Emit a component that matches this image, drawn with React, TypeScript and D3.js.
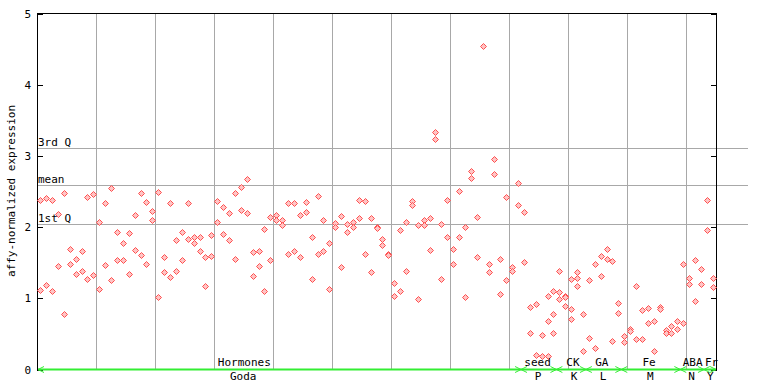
import React from 'react';
import * as d3 from 'd3';

const W = 768;
const H = 384;

// expression values per sample column (replicates)
const samples: number[][] = [
  [2.38, 1.12], [2.41, 1.19], [2.38, 1.10], [2.19, 1.45], [2.48, 0.78],
  [1.69, 1.49], [1.56, 1.35], [1.66, 1.38], [2.42, 1.27], [2.47, 1.33],
  [2.08, 1.13], [2.34, 1.47], [2.55, 1.26], [1.94, 1.54], [1.78, 1.54],
  [1.92, 1.35], [2.18, 1.68], [2.48, 1.61], [2.35, 1.48], [2.23, 2.10],
  [2.49, 1.02], [1.58, 1.37], [2.34, 1.30], [1.82, 1.38], [1.94, 1.54],
  [2.34, 1.83], [1.86, 1.78], [1.86, 1.66], [1.58, 1.17], [1.89, 1.59],
  [2.37, 2.07], [2.28, 1.90], [2.20, 1.82], [2.48, 1.55], [2.56, 2.24],
  [2.68, 2.20], [1.65, 1.31], [1.66, 1.45], [1.97, 1.10], [2.14, 1.54],
  [2.17, 2.10], [2.10, 2.03], [2.34, 1.62], [2.34, 1.66], [2.17, 1.58],
  [2.35, 2.21], [1.86, 1.27], [2.44, 1.62], [2.10, 1.66], [1.78, 1.13],
  [2.06, 2.00], [2.16, 1.44], [2.04, 1.94], [2.07, 2.00], [2.39, 2.13],
  [2.37, 1.62], [2.13, 1.37], [2.01, 1.99], [1.83, 1.75], [1.63, 1.61],
  [1.21, 1.04], [1.96, 1.10], [2.07, 1.38], [2.37, 2.31], [2.03, 0.99],
  [2.10, 2.03], [2.13, 1.68], [3.34, 3.24], [2.04, 1.27], [2.39, 1.86],
  [1.69, 1.49], [2.51, 1.87], [2.00, 1.02], [2.79, 2.70], [2.14, 1.58],
  [4.55], [1.48, 1.37], [2.96, 2.75], [1.55, 1.06], [2.42, 1.26],
  [1.44, 1.38], [2.63, 2.32], [2.21, 1.51], [0.88, 0.52], [0.92, 0.21],
  [0.48, 0.19], [1.04, 0.68, 0.19], [1.10, 0.78, 0.52], [1.38, 1.09, 0.99], [1.04, 1.02, 0.90],
  [1.27, 0.85, 0.71], [1.37, 1.28, 1.17], [0.78, 0.26], [1.26, 0.45], [1.49, 0.30],
  [1.59, 1.31], [1.69, 1.56], [1.52, 0.40], [0.93, 0.79], [0.47, 0.38],
  [0.57, 0.54], [1.18, 0.43], [0.83, 0.43], [0.86, 0.65], [0.68, 0.26],
  [0.88, 0.85], [0.55, 0.52], [0.61, 0.52], [0.68, 0.57], [1.48, 0.65],
  [1.28, 1.20], [1.54, 0.97], [1.42, 1.20], [2.39, 1.96], [1.28, 1.16],
];

const yTicks = [0, 1, 2, 3, 4, 5];
const refLabels = ['3rd Q', 'mean', '1st Q'];
const refValues = [3.11, 2.59, 2.046];

const groupNames = ['Hormones', 'seed', 'CK', 'GA', 'Fe', 'ABA', 'Fr'];
const sourceNames = ['Goda', 'P', 'K', 'L', 'M', 'N', 'Y'];
const groupStart = [0, 82, 88, 93, 99, 109, 113];
const groupEnd = [81, 87, 92, 98, 108, 112, 114];
const groupLabelAt = [34.6, 84.3, 90.3, 95.2, 103.2, 110.6, 113.8];
const sourceLabelAt = [34.4, 84.4, 90.5, 95.4, 103.4, 110.4, 113.6];

const FONT = "'DejaVu Sans Mono', monospace";

export default function App() {
  const left = 37, right = 716, top = 13, bottom = 369;
  const x = d3.scaleLinear().domain([-0.55, samples.length - 0.45]).range([left, right]);
  const y = d3.scaleLinear().domain([0, 5]).range([369.5, 14]);
  const gx = d3.scaleLinear().domain([0, 12]).range([left, 745]);
  const crisp = (v: number) => Math.round(v) + 0.5;

  const points: { cx: number; cy: number; key: string }[] = [];
  samples.forEach((vals, i) => {
    vals.forEach((v, j) => points.push({ cx: x(i), cy: y(v), key: `${i}-${j}` }));
  });

  const diamond = (cx: number, cy: number, r: number) =>
    `M${cx},${cy - r}L${cx + r},${cy}L${cx},${cy + r}L${cx - r},${cy}Z`;

  const green = '#33ee33';

  return (
    <svg width={W} height={H} style={{ position: 'absolute', left: 0, top: 0, background: '#fff' }}
      fontFamily={FONT}>
      <rect x={0} y={0} width={W} height={H} fill="#fff" />
      {/* vertical grid */}
      {d3.range(1, 12).map(k => (
        <line key={'vg' + k} x1={crisp(gx(k))} x2={crisp(gx(k))} y1={top} y2={bottom} stroke="#a8a8a8" strokeWidth={1} />
      ))}
      {/* reference lines */}
      {refValues.map((v, i) => (
        <g key={'ref' + i}>
          <line x1={left} x2={748} y1={crisp(y(v))} y2={crisp(y(v))} stroke="#a8a8a8" strokeWidth={1} />
          <text x={38} y={Math.round(y(v)) - 2} fontSize={11} fill="#000">{refLabels[i]}</text>
        </g>
      ))}
      {/* frame */}
      <line x1={left} x2={right + 1} y1={top + 0.5} y2={top + 0.5} stroke="#000" />
      <line x1={left + 0.5} x2={left + 0.5} y1={top} y2={bottom + 1} stroke="#000" />
      <line x1={right + 0.5} x2={right + 0.5} y1={top} y2={bottom + 1} stroke="#000" />
      <line x1={left} x2={right + 1} y1={bottom + 0.5} y2={bottom + 0.5} stroke="#000" />
      {yTicks.map(t => (
        <g key={'yt' + t}>
          <line x1={left} x2={left + 6} y1={crisp(y(t))} y2={crisp(y(t))} stroke="#000" />
          <line x1={right - 5} x2={right + 1} y1={crisp(y(t))} y2={crisp(y(t))} stroke="#000" />
          <text x={31} y={Math.round(y(t)) + 4} fontSize={11} textAnchor="end" fill="#000">{t}</text>
        </g>
      ))}
      <text transform={`translate(15,191) rotate(-90)`} fontSize={11} textAnchor="middle" fill="#000">
        affy-normalized expression
      </text>
      {/* points */}
      {points.map(p => (
        <path key={p.key} d={diamond(Math.round(p.cx) + 0.5, Math.round(p.cy) + 0.5, 3)} fill="#ffc4c4" stroke="#ff5050" strokeWidth={1} />
      ))}
      {/* group axis */}
      {groupNames.map((g, i) => {
        const x1 = i === 0 ? left + 1 : x(groupStart[i]) - 3;
        const x2 = i === groupNames.length - 1 ? right : x(groupEnd[i]) + 3;
        const yy = bottom + 0.5;
        return (
          <g key={'grp' + i}>
            <line x1={x1} x2={x2} y1={yy} y2={yy} stroke={green} strokeWidth={2} />
            <path d={`M${x1 + 6},${yy - 3}L${x1},${yy}L${x1 + 6},${yy + 3}`} fill="none" stroke={green} strokeWidth={1} />
            <path d={`M${x2 - 6},${yy - 3}L${x2},${yy}L${x2 - 6},${yy + 3}`} fill="none" stroke={green} strokeWidth={1} />
            <text x={x(groupLabelAt[i])} y={366} fontSize={11} textAnchor="middle" fill="#000">{g}</text>
            <text x={x(sourceLabelAt[i])} y={380} fontSize={11} textAnchor="middle" fill="#000">{sourceNames[i]}</text>
          </g>
        );
      })}
    </svg>
  );
}
